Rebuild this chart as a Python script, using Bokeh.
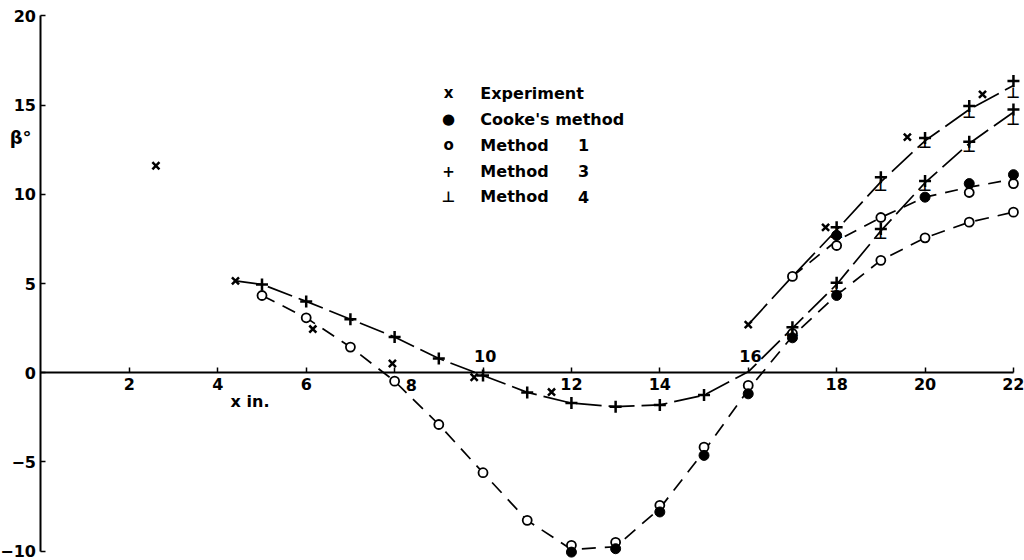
from bokeh.plotting import figure
from bokeh.models import LinearAxis, FixedTicker, Label, Range1d
from bokeh.embed import file_html
from bokeh.resources import INLINE
from bokeh.core.properties import value

# ---- measured values: beta (degrees) against x (inches) ----
exp_x = [2.6, 4.4, 6.15, 7.95, 9.8, 11.55, 16.0, 17.75, 19.6, 21.3]
exp_y = [11.6, 5.15, 2.45, 0.52, -0.25, -1.08, 2.7, 8.15, 13.2, 15.6]

cooke_x = [12, 13, 14, 15, 16, 17, 18, 18, 20, 21, 22]
cooke_y = [-10.05, -9.86, -7.8, -4.63, -1.18, 1.96, 4.33, 7.7, 9.84, 10.6, 11.1]

m1_x = [5, 6, 7, 8, 9, 10, 11, 12, 13, 14, 15, 16, 17, 19, 20, 21, 22,
        17, 18, 19, 21, 22]
m1_y = [4.33, 3.08, 1.44, -0.47, -2.9, -5.6, -8.27, -9.67, -9.5, -7.43, -4.17,
        -0.71, 2.2, 6.3, 7.56, 8.44, 9.0,
        5.4, 7.13, 8.7, 10.1, 10.6]

m3_x = [5, 6, 7, 8, 9, 10, 11, 12, 13, 14, 15, 17, 18, 19, 20, 21, 22,
        18, 19, 20, 21, 22]
m3_y = [4.95, 4.0, 3.0, 2.0, 0.8, -0.15, -1.1, -1.7, -1.9, -1.8, -1.25,
        2.55, 5.05, 8.05, 10.75, 12.95, 14.75,
        8.15, 10.95, 13.15, 14.95, 16.35]

m4_x = [17, 18, 19, 20, 21, 22, 18, 19, 20, 21, 22]
m4_y = [2.35, 4.8, 7.75, 10.45, 12.65, 14.15, 7.85, 10.45, 12.85, 14.55, 15.65]

# faired curves through the computed points
curve_m3_x = [4.4, 5, 6, 7, 8, 9, 10, 11, 12, 13, 14, 15, 16, 17, 18, 19, 20, 21, 22]
curve_m3_y = [5.15, 4.95, 4.0, 3.0, 2.0, 0.8, -0.15, -1.1, -1.7, -1.9, -1.8,
              -1.25, 0.05, 2.5, 4.95, 7.95, 10.65, 12.85, 14.6]

curve_m1_x = [5, 6, 7, 8, 9, 10, 11, 12, 13, 14, 15, 16, 17, 18, 19, 20, 21, 22]
curve_m1_y = [4.33, 3.08, 1.44, -0.47, -2.9, -5.6, -8.27, -9.9, -9.75, -7.6,
              -4.4, -0.95, 2.05, 4.35, 6.3, 7.56, 8.44, 9.0]

curve_up_m3_x = [16.0, 17, 18, 19, 20, 21, 22]
curve_up_m3_y = [2.7, 5.4, 8.0, 10.7, 13.0, 14.75, 16.1]

curve_up_m1_x = [17, 18, 19, 20, 21, 22]
curve_up_m1_y = [5.4, 7.4, 8.7, 9.84, 10.4, 10.85]

x_ticks = [2, 4, 6, 8, 10, 12, 14, 16, 18, 20, 22]
y_ticks = [-10, -5, 0, 5, 10, 15, 20]
# tick labels drawn away from their usual place, clear of the curves
moved_tick_labels = {8: (8.38, -0.66), 10: (10.05, 0.95), 16: (16.05, 0.95)}

legend_symbols = ["x", "●", "o", "+", "⊥"]
legend_names = ["Experiment", "Cooke's method", "Method", "Method", "Method"]
legend_numbers = ["", "", "1", "3", "4"]

FONT = "DejaVu Sans"
INK = "black"

p = figure(width=1024, height=560,
           x_range=Range1d(-0.916, 22.25), y_range=Range1d(-10.52, 20.86),
           x_axis_type=None, y_axis_type=None,
           min_border=0, toolbar_location=None, output_backend="svg",
           outline_line_color=None, background_fill_color="white",
           border_fill_color="white")
p.grid.visible = False

axis_style = dict(
    axis_line_width=2, axis_line_color=INK,
    major_tick_in=5, major_tick_out=0, major_tick_line_width=1.5,
    major_tick_line_color=INK,
    minor_tick_in=0, minor_tick_out=0,
    major_label_text_font=FONT, major_label_text_font_style="bold",
    major_label_text_font_size="16px", major_label_text_color=INK,
)

xaxis = LinearAxis(fixed_location=0, bounds=(0, 22),
                   ticker=FixedTicker(ticks=x_ticks),
                   major_label_overrides={float(k): "" for k in moved_tick_labels},
                   major_label_standoff=5, **axis_style)
p.add_layout(xaxis, "below")

yaxis = LinearAxis(fixed_location=0, bounds=(-10, 20),
                   ticker=FixedTicker(ticks=y_ticks),
                   major_label_standoff=5, **axis_style)
p.add_layout(yaxis, "left")

for tick, (lx, ly) in moved_tick_labels.items():
    p.add_layout(Label(x=lx, y=ly, text=str(tick), text_align="center",
                       text_baseline="middle", text_font=FONT,
                       text_font_style="bold", text_font_size="16px",
                       text_color=INK))

p.add_layout(Label(x=4.29, y=-1.6, text="x in.", text_baseline="middle",
                   text_font=FONT, text_font_style="bold", text_font_size="16px",
                   text_color=INK))
p.add_layout(Label(x=-0.46, y=13.2, text="β°", text_align="center",
                   text_baseline="middle", text_font=FONT,
                   text_font_style="bold", text_font_size="18px",
                   text_color=INK))

# curves
p.line(curve_m3_x, curve_m3_y, line_color=INK, line_width=1.7, line_dash="26 7")
p.line(curve_m1_x, curve_m1_y, line_color=INK, line_width=1.7, line_dash="14 9")
p.line(curve_up_m3_x, curve_up_m3_y, line_color=INK, line_width=1.7, line_dash="28 7")
p.line(curve_up_m1_x, curve_up_m1_y, line_color=INK, line_width=1.7, line_dash="13 9")

# points
p.scatter(m1_x, m1_y, marker="circle", size=9, fill_color="white",
          line_color=INK, line_width=1.8)
p.scatter(cooke_x, cooke_y, marker="circle", size=10, fill_color=INK,
          line_color=INK)
p.scatter(m3_x, m3_y, marker="cross", size=12, line_color=INK, line_width=2.5)
p.text(m4_x, m4_y, text=value("⊥"), text_align="center", text_baseline="middle",
       text_font=value(FONT), text_font_style="bold", text_font_size="15px",
       text_color=INK)
p.scatter(exp_x, exp_y, marker="x", size=10, line_color=INK, line_width=2.5)

# key
key_x, key_text_x, key_num_x = 9.22, 9.94, 12.15
key_top, key_step = 15.65, 1.45
for i, (sym, name, num) in enumerate(zip(legend_symbols, legend_names, legend_numbers)):
    ky = key_top - i * key_step
    p.add_layout(Label(x=key_x, y=ky, text=sym, text_align="center",
                       text_baseline="middle", text_font=FONT,
                       text_font_style="bold", text_font_size="15px",
                       text_color=INK))
    p.add_layout(Label(x=key_text_x, y=ky, text=name, text_baseline="middle",
                       text_font=FONT, text_font_style="bold",
                       text_font_size="16px", text_color=INK))
    if num:
        p.add_layout(Label(x=key_num_x, y=ky, text=num, text_baseline="middle",
                           text_font=FONT, text_font_style="bold",
                           text_font_size="16px", text_color=INK))

open("out.html", "w").write(file_html(p, INLINE))
